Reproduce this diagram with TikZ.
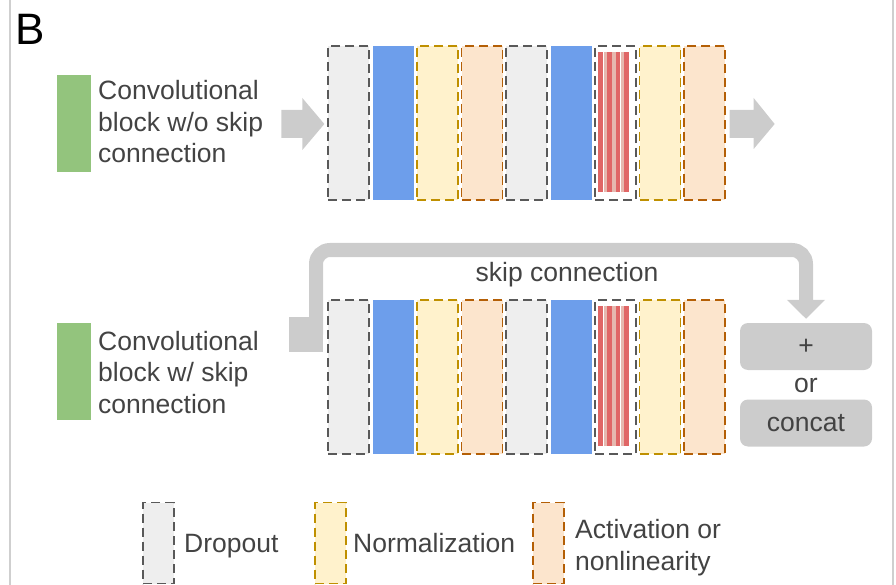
\documentclass[tikz,border=0pt]{standalone}
\usepackage{fontspec}
\setmainfont{Liberation Sans}
\usetikzlibrary{calc,arrows.meta}

\definecolor{txt}{HTML}{434343}
\definecolor{dropfill}{HTML}{EEEEEE}
\definecolor{dropline}{HTML}{595959}
\definecolor{convblue}{HTML}{6D9EEB}
\definecolor{normfill}{HTML}{FFF2CC}
\definecolor{normline}{HTML}{BF9000}
\definecolor{actfill}{HTML}{FCE5CD}
\definecolor{actline}{HTML}{B45F06}
\definecolor{convgreen}{HTML}{93C47D}
\definecolor{reddark}{HTML}{E06666}
\definecolor{redlight}{HTML}{E6B8AF}
\definecolor{flowgray}{HTML}{CCCCCC}
\definecolor{framegray}{HTML}{CFCFCF}

\begin{document}
\begin{tikzpicture}[x=1pt,y=-1pt,
  blk/.style={rectangle, inner sep=0pt, minimum width=41pt, minimum height=154pt,
              line width=1.3pt, dash pattern=on 9pt off 5pt},
  dropblk/.style={blk, draw=dropline, fill=dropfill},
  convblk/.style={blk, fill=convblue},
  normblk/.style={blk, draw=normline, fill=normfill},
  actblk/.style={blk, draw=actline, fill=actfill},
  hatchblk/.style={blk, draw=dropline, fill=white},
  legbox/.style={blk, minimum width=31pt, minimum height=81pt},
  greenbar/.style={rectangle, inner sep=0pt, fill=convgreen, minimum width=34pt, minimum height=97pt},
  lbl/.style={text=txt, font=\fontsize{26.5}{31.5}\selectfont, inner sep=0pt, align=left},
  opbox/.style={lbl, fill=flowgray, rounded corners=8pt, minimum width=132pt, minimum height=47pt}
]
\useasboundingbox (0,0) rectangle (896,585);

% side frame lines
\draw[framegray, line width=2pt] (10,0) -- (10,585);
\draw[framegray, line width=2pt] (893,0) -- (893,585);

% panel letter
\node[anchor=base west, inner sep=0pt, font=\fontsize{44}{44}\selectfont] (panel) at (15,45) {B};

% row labels (base anchor = baseline of the last line)
\node[greenbar] (g1) at (74,123.5) {};
\node[lbl, anchor=base west] (t1) at (98,163) {Convolutional\\block w/o skip\\connection};
\node[greenbar] (g2) at (74,371.5) {};
\node[lbl, anchor=base west] (t2) at (98,413) {Convolutional\\block w/ skip\\connection};

% the two layer stacks
\foreach \row/\yc in {1/123, 2/377} {
  \foreach \t [count=\i from 0] in {dropblk,convblk,normblk,actblk,dropblk,convblk,hatchblk,normblk,actblk} {
    \node[\t] (r\row b\i) at (348.5+44.5*\i, \yc) {};
  }
  % striped layer: 4 dark and 3 light stripes
  \foreach \k in {0,...,3} {
    \fill[reddark] ($(r\row b6.north west)+(4+\k*8.6,7)$) rectangle ++(4.6,140);
  }
  \foreach \k in {0,...,2} {
    \fill[redlight] ($(r\row b6.north west)+(9.2+\k*8.6,7)$) rectangle ++(3.4,140);
  }
}

% input / output block arrows of the first stack
\fill[flowgray] ($(r1b0.west)+(-46,-13)$) -- ++(21,0) -- ++(0,-12) -- ($(r1b0.west)+(-3,1)$)
  -- ($(r1b0.west)+(-25,27)$) -- ++(0,-12) -- ($(r1b0.west)+(-46,15)$) -- cycle;
\fill[flowgray] ($(r1b8.east)+(4,-13)$) -- ++(24,0) -- ++(0,-12) -- ($(r1b8.east)+(49,1)$)
  -- ($(r1b8.east)+(28,26)$) -- ++(0,-11) -- ($(r1b8.east)+(4,15)$) -- cycle;

% skip connection
\node[rectangle, inner sep=0pt, fill=flowgray, minimum width=34pt, minimum height=35pt] (stub) at (306,334.5) {};
\node[opbox] (plus) at (806,346.5) {+};
\node[lbl] (orw) at (806,385) {or};
\node[opbox] (concat) at (806,423) {concat};
\coordinate (bend) at (560,250);
\draw[flowgray, line width=14pt, rounded corners=14pt, shorten >=4pt,
      -{Triangle[length=19pt,width=37pt]}]
  ([xshift=10pt]stub.center) |- (bend) -| (plus.north);
\node[lbl, anchor=base] (skiplbl) at (567,281) {skip connection};

% legend
\node[legbox, draw=dropline, fill=dropfill] (l1) at (158.5,543) {};
\node[lbl, anchor=base west] (l1t) at (184,552) {Dropout};
\node[legbox, draw=normline, fill=normfill] (l2) at (330.5,543) {};
\node[lbl, anchor=base west] (l2t) at (353,552) {Normalization};
\node[legbox, draw=actline, fill=actfill] (l3) at (548.5,543) {};
\node[lbl, anchor=base west] (l3t) at (575,570) {Activation or\\nonlinearity};
\end{tikzpicture}
\end{document}
